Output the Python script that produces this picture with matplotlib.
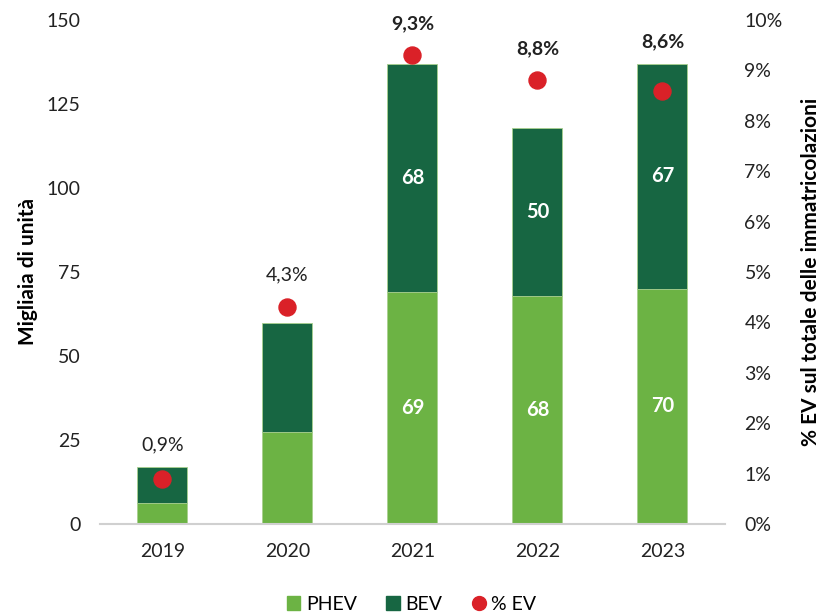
import matplotlib.pyplot as plt
import numpy as np
from matplotlib.lines import Line2D
from matplotlib.patches import Patch

plt.rcParams['font.family'] = ['Lato', 'DejaVu Sans']

anni = ["2019", "2020", "2021", "2022", "2023"]
phev = [6.3, 27.4, 69, 68, 70]
bev = [10.7, 32.4, 68, 50, 67]
perc_ev = [0.9, 4.3, 9.3, 8.8, 8.6]
phev_lab = ["", "", "69", "68", "70"]
bev_lab = ["", "", "68", "50", "67"]

c_phev = "#6cb344"
c_bev = "#176642"
c_ev = "#da2128"

fig = plt.figure(figsize=(8.23, 6.15), dpi=100)
ax = fig.add_axes([0.1215, 0.148, 0.7594, 0.8195])
ax2 = ax.twinx()

x = np.arange(len(anni))
w = 0.4
ax.bar(x, phev, w, color=c_phev, edgecolor="#a8d08d", linewidth=0.6, zorder=2)
ax.bar(x, bev, w, bottom=phev, color=c_bev, edgecolor="#a8d08d", linewidth=0.6, zorder=2)

for i in range(len(anni)):
    if phev_lab[i]:
        ax.text(x[i], phev[i] / 2, phev_lab[i], ha="center", va="center",
                color="white", fontsize=14.5, fontweight="bold")
    if bev_lab[i]:
        ax.text(x[i], phev[i] + bev[i] / 2, bev_lab[i], ha="center", va="center",
                color="white", fontsize=14.5, fontweight="bold")

ax.set_ylim(0, 150)
ax.set_yticks([0, 25, 50, 75, 100, 125, 150])
ax.set_xlim(-0.5, 4.5)
ax.set_xticks(x)
ax.set_xticklabels(anni)
ax.set_ylabel("Migliaia di unità", fontsize=15, fontweight="bold", labelpad=6)

ax2.set_ylim(0, 10)
ax2.set_yticks(range(0, 11))
ax2.set_yticklabels([f"{v}%" for v in range(0, 11)])
ax2.set_ylabel("% EV sul totale delle immatricolazioni", fontsize=15,
               fontweight="bold", labelpad=13)
ax2.scatter(x, perc_ev, s=150, color=c_ev, zorder=3)

# etichette percentuali sopra il punto o sopra la barra
for i in range(len(anni)):
    tot = phev[i] + bev[i]
    y = max(perc_ev[i] * 15 + 9.5, tot + 6.5)
    ax.text(x[i], y, f"{perc_ev[i]:.1f}%".replace(".", ","), ha="center",
            va="center", fontsize=14, fontweight="bold" if i >= 2 else "normal",
            color="#222222")

for a in (ax, ax2):
    for s in a.spines.values():
        s.set_visible(False)
    a.tick_params(length=0, labelsize=14, colors="#222222")
ax.spines["bottom"].set_visible(True)
ax.spines["bottom"].set_color("#d0d0d0")
ax.spines["bottom"].set_linewidth(1.5)
ax.tick_params(axis="x", pad=14)
ax.tick_params(axis="y", pad=14)
ax2.tick_params(axis="y", pad=14)

handles = [Patch(color=c_phev, label="PHEV"),
           Patch(color=c_bev, label="BEV"),
           Line2D([], [], marker="o", color=c_ev, linestyle="none", markersize=10, label="% EV")]
fig.legend(handles=handles, loc="lower center", ncol=3, frameon=False, fontsize=14,
           bbox_to_anchor=(0.5, -0.025), handlelength=0.7, handleheight=0.7,
           handletextpad=0.3, columnspacing=1.5)

fig.savefig("out.png", dpi=100)
